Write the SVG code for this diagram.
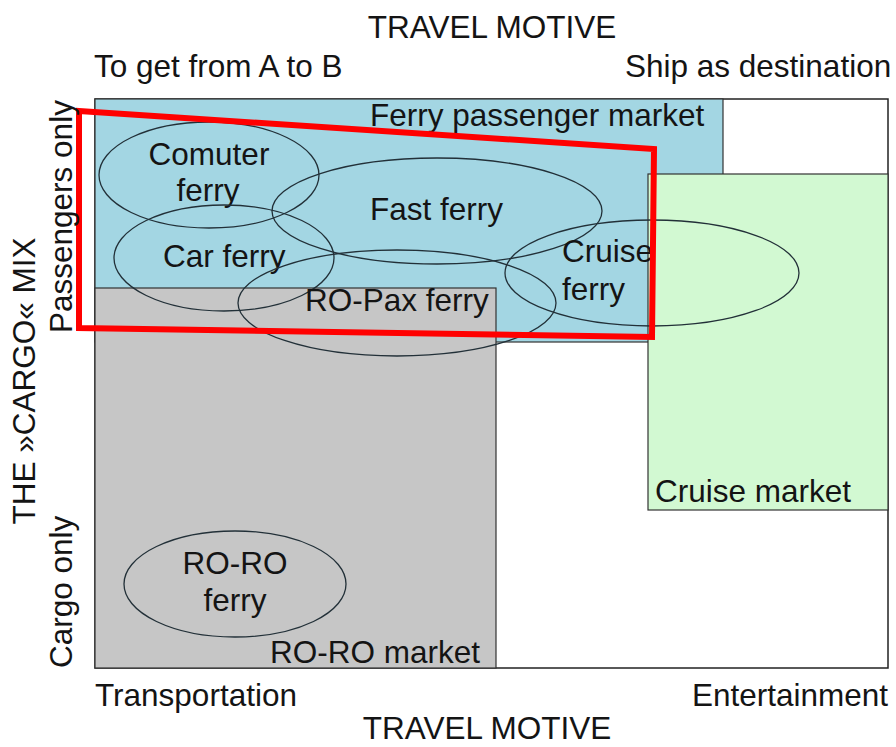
<svg xmlns="http://www.w3.org/2000/svg" width="896" height="747" viewBox="0 0 896 747">
<style>
text{font-family:"Liberation Sans",Arial,sans-serif;font-size:31.5px;fill:#141414}
.mk{stroke:#333;stroke-width:1.2}
.ell{fill:none;stroke:#223038;stroke-width:1.3}
</style>
<rect width="896" height="747" fill="#fff"/>
<g id="frame"><rect x="95" y="99" width="793" height="569" fill="#fff" stroke="#222" stroke-width="1.5"/></g>
<g id="ferry-passenger-market">
<rect class="mk" x="95" y="99" width="628" height="243" fill="#a3d6e3"/>
<text x="370" y="126">Ferry passenger market</text>
</g>
<g id="cruise-market">
<rect class="mk" x="648" y="174" width="240" height="336" fill="#d2f9d2"/>
<text x="655" y="502">Cruise market</text>
</g>
<g id="roro-market">
<rect class="mk" x="95" y="288" width="401" height="380" fill="#c6c6c6"/>
<text x="270" y="663">RO-RO market</text>
</g>
<g id="comuter-ferry">
<ellipse class="ell" cx="209" cy="175" rx="110" ry="53"/>
<text x="209" y="165" text-anchor="middle">Comuter</text>
<text x="208" y="201" text-anchor="middle">ferry</text>
</g>
<g id="car-ferry">
<ellipse class="ell" cx="224" cy="258" rx="110" ry="53"/>
<text x="163" y="267">Car ferry</text>
</g>
<g id="fast-ferry">
<ellipse class="ell" cx="437" cy="211" rx="165" ry="53"/>
<text x="370" y="220">Fast ferry</text>
</g>
<g id="ropax-ferry">
<ellipse class="ell" cx="397" cy="303" rx="159" ry="53"/>
<text x="305" y="311">RO-Pax ferry</text>
</g>
<g id="cruise-ferry">
<ellipse class="ell" cx="652" cy="273" rx="147" ry="53"/>
<text x="562" y="262">Cruise</text>
<text x="562" y="300">ferry</text>
</g>
<g id="roro-ferry">
<ellipse class="ell" cx="235" cy="584" rx="111" ry="53"/>
<text x="235" y="574" text-anchor="middle">RO-RO</text>
<text x="235" y="611" text-anchor="middle">ferry</text>
</g>
<g id="highlight">
<polygon points="79,111 654,149 652,337 79,328" fill="none" stroke="#ff0000" stroke-width="6"/>
</g>
<g id="axis-labels">
<text x="492" y="38" text-anchor="middle">TRAVEL MOTIVE</text>
<text x="94" y="77">To get from A to B</text>
<text x="625" y="77">Ship as destination</text>
<text x="95" y="706">Transportation</text>
<text x="888" y="706" text-anchor="end">Entertainment</text>
<text x="487" y="739" text-anchor="middle">TRAVEL MOTIVE</text>
<text transform="translate(35,381) rotate(-90)" text-anchor="middle">THE »CARGO« MIX</text>
<text transform="translate(72,333) rotate(-90)">Passengers only</text>
<text transform="translate(72,668) rotate(-90)">Cargo only</text>
</g>
</svg>
